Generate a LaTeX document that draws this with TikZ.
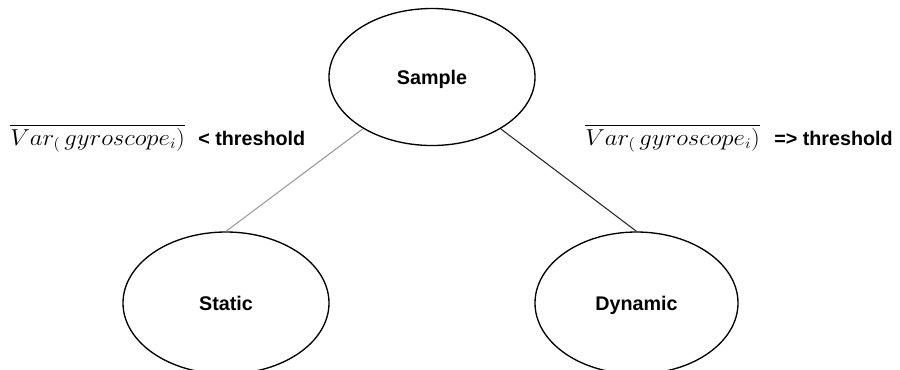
\documentclass[tikz,border=0pt]{standalone}
\usepackage{fontspec}
\setmainfont{Liberation Sans}
\usetikzlibrary{shapes.geometric}
\usepackage{graphicx}
\begin{document}
\begin{tikzpicture}[x=0.75pt,y=-0.75pt,
  state/.style={ellipse,draw=black,line width=1pt,inner sep=0pt,
    text depth=0pt,
    font=\fontsize{14.8}{16}\selectfont\bfseries},
  cond/.style={inner sep=0pt,anchor=base west,
    font=\fontsize{14.8}{16}\selectfont\bfseries},
  formula/.style={inner sep=0pt,anchor=base west,font=\fontsize{16}{18}\selectfont},
  branch/.style={line width=0.8pt}]
\useasboundingbox (0,0) rectangle (900,369);

% tree nodes
\node[state,minimum width=154.5pt,minimum height=102.75pt] (sample) at (432,77) {Sample};
\node[state,minimum width=154.5pt,minimum height=106.5pt] (static) at (226,303) {Static};
\node[state,minimum width=152.25pt,minimum height=106.5pt] (dynamic) at (636.5,303) {Dynamic};

% branches
\draw[branch,draw=gray!80] (sample) -- (static.north);
\draw[branch,draw=black!85] (sample) -- (dynamic.north);

% branch conditions
\node[formula] (fl) at (10,145)
  {\resizebox{131pt}{\height}{$\overline{\vphantom{X^{2}}Var_{(}\,gyroscope_{i})}$}};
\node[cond] (cl) at (198,145) {< threshold};
\node[formula] (fr) at (585,145)
  {\resizebox{131pt}{\height}{$\overline{\vphantom{X^{2}}Var_{(}\,gyroscope_{i})}$}};
\node[cond] (cr) at (774,145) {=> threshold};
\end{tikzpicture}
\end{document}
